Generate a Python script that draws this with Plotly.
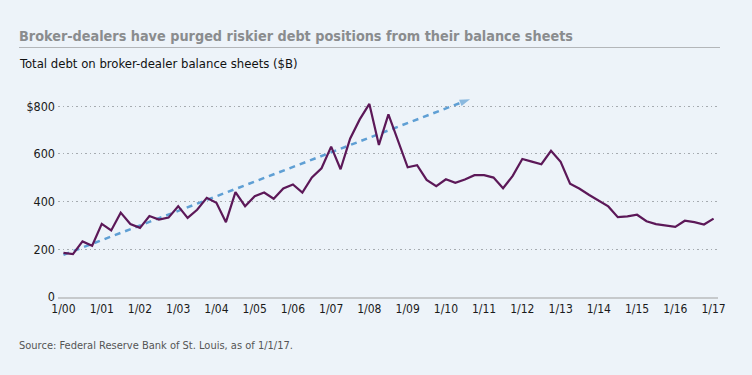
import plotly.graph_objects as go

# ---- data ----
quarters = [f"{y}-{m:02d}-01" for y in range(2000, 2018) for m in (1, 4, 7, 10)][:69]
debt_values = [
    185, 180, 233, 215, 307, 279, 354, 306, 290, 340, 325, 333,
    381, 332, 366, 416, 395, 314, 440, 381, 423, 438, 412, 455,
    472, 438, 502, 540, 631, 536, 664, 745, 810, 638, 766, 655,
    544, 553, 491, 465, 494, 479, 493, 511, 511, 501, 456, 508,
    579, 568, 557, 613, 567, 475, 454, 428, 403, 380, 335, 338,
    345, 318, 306, 299, 294, 320, 314, 304, 329,
]
trend_dates = ["2000-01-01", "2010-08-20"]
trend_values = [177, 830]
tick_dates = [f"{y}-01-01" for y in range(2000, 2018)]
tick_labels = [f"1/{y % 100:02d}" for y in range(2000, 2018)]
y_ticks = [0, 200, 400, 600, 800]
y_tick_labels = ["0", "200", "400", "600", "$800"]

title = "Broker-dealers have purged riskier debt positions from their balance sheets"
subtitle = "Total debt on broker-dealer balance sheets ($B)"
source = "Source: Federal Reserve Bank of St. Louis, as of 1/1/17."

FONT = "Liberation Sans Narrow, DejaVu Sans Condensed, Arial Narrow, Roboto, sans-serif"
BG = "#edf3f9"

fig = go.Figure()
fig.add_trace(go.Scatter(
    x=trend_dates, y=trend_values, mode="lines+markers",
    line=dict(color="#5f9fd4", width=2.5, dash="6px,5px"),
    marker=dict(symbol=["circle", "arrow"], size=[0, 11], angleref="previous",
                color="#5f9fd4", line=dict(width=0)),
    hoverinfo="skip", showlegend=False,
))
fig.add_trace(go.Scatter(
    x=quarters, y=debt_values, mode="lines",
    line=dict(color="#5c1858", width=2.2),
    showlegend=False,
))

fig.update_layout(
    width=752, height=375,
    margin=dict(l=58, r=34, t=92, b=78),
    paper_bgcolor=BG, plot_bgcolor=BG,
    font=dict(family=FONT, size=12, color="#1a1a1a"),
    xaxis=dict(
        type="date", range=["1999-11-10", "2017-02-12"],
        tickmode="array", tickvals=tick_dates, ticktext=tick_labels,
        showgrid=False, zeroline=False, showline=True,
        linecolor="#c6c9cc", linewidth=2, ticks="",
        tickfont=dict(size=12, color="#1a1a1a"),
    ),
    yaxis=dict(
        range=[0, 860], tickmode="array", tickvals=y_ticks, ticktext=y_tick_labels,
        showgrid=True, gridcolor="#a6abb0", griddash="1.5px,3px", gridwidth=1,
        zeroline=False, showline=False, ticks="", ticklabelstandoff=2,
        tickfont=dict(size=12.5, color="#1a1a1a"),
    ),
    annotations=[
        dict(text=title, xref="paper", yref="paper", x=(17 - 58) / 660, y=1 + (92 - 36) / 205,
             xanchor="left", yanchor="middle", showarrow=False,
             font=dict(family=FONT, size=14.3, color="#8a8c8e", weight="bold")),
        dict(text=subtitle, xref="paper", yref="paper", x=(17 - 58) / 660, y=1 + (92 - 64) / 205,
             xanchor="left", yanchor="middle", showarrow=False,
             font=dict(family=FONT, size=13, color="#111111")),
        dict(text=source, xref="paper", yref="paper", x=(17 - 58) / 660, y=-(345 - 297) / 205,
             xanchor="left", yanchor="middle", showarrow=False,
             font=dict(family=FONT, size=11, color="#555555")),
    ],
    shapes=[
        dict(type="line", xref="paper", yref="paper",
             x0=(19 - 58) / 660, x1=(720 - 58) / 660,
             y0=1 + (92 - 47.5) / 205, y1=1 + (92 - 47.5) / 205,
             line=dict(color="#b3b6b9", width=1)),
    ],
)

fig.write_html(
    "out.html",
    config={"displayModeBar": False},
    post_script="document.body.style.margin='0';document.body.style.background='" + BG + "';",
)
